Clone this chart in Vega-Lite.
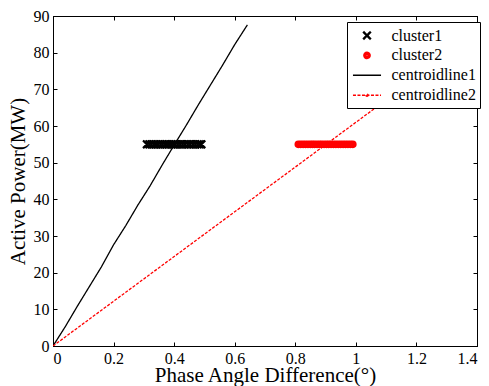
{
  "$schema": "https://vega.github.io/schema/vega-lite/v6.json",
  "width": 424,
  "height": 330,
  "autosize": {"type": "none"},
  "padding": {"left": 53, "top": 16, "right": 12, "bottom": 40},
  "background": "white",
  "config": {
    "view": {"stroke": "black", "strokeWidth": 1},
    "font": "Liberation Serif",
    "axis": {
      "grid": false,
      "domainColor": "black",
      "domainWidth": 1,
      "tickColor": "black",
      "tickWidth": 1,
      "tickSize": -4,
      "labelFont": "Liberation Serif",
      "labelFontSize": 16,
      "labelColor": "black",
      "titleFont": "Liberation Serif",
      "titleFontSize": 21,
      "titleFontWeight": "normal",
      "titleColor": "black"
    },
    "legend": {
      "labelFont": "Liberation Serif",
      "labelFontSize": 16,
      "labelColor": "black",
      "title": null,
      "orient": "none",
      "legendX": 294,
      "legendY": 6,
      "direction": "vertical",
      "strokeColor": "black",
      "fillColor": "white",
      "padding": 4,
      "rowPadding": 1.9,
      "symbolSize": 300,
      "symbolStrokeWidth": 1.5,
      "symbolOffset": 6.5,
      "labelOffset": 15
    }
  },
  "datasets": {
    "series": [
      {"series": "cluster1", "x": 0.31, "y": 55}, {"series": "cluster1", "x": 0.318, "y": 55},
      {"series": "cluster1", "x": 0.325, "y": 55}, {"series": "cluster1", "x": 0.333, "y": 55},
      {"series": "cluster1", "x": 0.34, "y": 55}, {"series": "cluster1", "x": 0.347, "y": 55},
      {"series": "cluster1", "x": 0.355, "y": 55}, {"series": "cluster1", "x": 0.362, "y": 55},
      {"series": "cluster1", "x": 0.37, "y": 55}, {"series": "cluster1", "x": 0.376, "y": 55},
      {"series": "cluster1", "x": 0.383, "y": 55}, {"series": "cluster1", "x": 0.39, "y": 55},
      {"series": "cluster1", "x": 0.397, "y": 55}, {"series": "cluster1", "x": 0.404, "y": 55},
      {"series": "cluster1", "x": 0.412, "y": 55}, {"series": "cluster1", "x": 0.42, "y": 55},
      {"series": "cluster1", "x": 0.428, "y": 55}, {"series": "cluster1", "x": 0.436, "y": 55},
      {"series": "cluster1", "x": 0.445, "y": 55}, {"series": "cluster1", "x": 0.453, "y": 55},
      {"series": "cluster1", "x": 0.462, "y": 55}, {"series": "cluster1", "x": 0.47, "y": 55},
      {"series": "cluster1", "x": 0.478, "y": 55}, {"series": "cluster1", "x": 0.485, "y": 55},
      {"series": "cluster1", "x": 0.49, "y": 55},
      {"series": "cluster2", "x": 0.81, "y": 55}, {"series": "cluster2", "x": 0.818, "y": 55},
      {"series": "cluster2", "x": 0.826, "y": 55}, {"series": "cluster2", "x": 0.834, "y": 55},
      {"series": "cluster2", "x": 0.842, "y": 55}, {"series": "cluster2", "x": 0.85, "y": 55},
      {"series": "cluster2", "x": 0.857, "y": 55}, {"series": "cluster2", "x": 0.864, "y": 55},
      {"series": "cluster2", "x": 0.872, "y": 55}, {"series": "cluster2", "x": 0.88, "y": 55},
      {"series": "cluster2", "x": 0.887, "y": 55}, {"series": "cluster2", "x": 0.895, "y": 55},
      {"series": "cluster2", "x": 0.903, "y": 55}, {"series": "cluster2", "x": 0.91, "y": 55},
      {"series": "cluster2", "x": 0.918, "y": 55}, {"series": "cluster2", "x": 0.926, "y": 55},
      {"series": "cluster2", "x": 0.934, "y": 55}, {"series": "cluster2", "x": 0.942, "y": 55},
      {"series": "cluster2", "x": 0.95, "y": 55}, {"series": "cluster2", "x": 0.958, "y": 55},
      {"series": "cluster2", "x": 0.966, "y": 55}, {"series": "cluster2", "x": 0.974, "y": 55},
      {"series": "cluster2", "x": 0.982, "y": 55}, {"series": "cluster2", "x": 0.99, "y": 55},
      {"series": "centroidline1", "x": 0, "y": 0}, {"series": "centroidline1", "x": 0.04, "y": 5.2},
      {"series": "centroidline1", "x": 0.08, "y": 10.8}, {"series": "centroidline1", "x": 0.12, "y": 16.2},
      {"series": "centroidline1", "x": 0.16, "y": 21.6}, {"series": "centroidline1", "x": 0.2, "y": 27.6},
      {"series": "centroidline1", "x": 0.24, "y": 32.8}, {"series": "centroidline1", "x": 0.28, "y": 38.4},
      {"series": "centroidline1", "x": 0.32, "y": 43.6}, {"series": "centroidline1", "x": 0.36, "y": 49.3},
      {"series": "centroidline1", "x": 0.4, "y": 54.8}, {"series": "centroidline1", "x": 0.44, "y": 60.2},
      {"series": "centroidline1", "x": 0.48, "y": 65.8}, {"series": "centroidline1", "x": 0.52, "y": 71.2},
      {"series": "centroidline1", "x": 0.56, "y": 76.6}, {"series": "centroidline1", "x": 0.6, "y": 82.2},
      {"series": "centroidline1", "x": 0.642, "y": 87.6},
      {"series": "centroidline2", "x": 0, "y": 0}, {"series": "centroidline2", "x": 0.2, "y": 12.2},
      {"series": "centroidline2", "x": 0.4, "y": 24.4}, {"series": "centroidline2", "x": 0.6, "y": 36.6},
      {"series": "centroidline2", "x": 0.8, "y": 48.8}, {"series": "centroidline2", "x": 1.0, "y": 61.0},
      {"series": "centroidline2", "x": 1.2, "y": 73.2}, {"series": "centroidline2", "x": 1.3, "y": 79.3}
    ],
    "frame": [{"x": 0, "y": 0}]
  },
  "layer": [
    {
      "data": {"name": "series"},
      "encoding": {
        "x": {
          "field": "x", "type": "quantitative",
          "scale": {"domain": [0, 1.4], "nice": false, "zero": false},
          "axis": {"title": "Phase Angle Difference(°)", "values": [0, 0.2, 0.4, 0.6, 0.8, 1, 1.2, 1.4], "format": "~g", "labelFont": "Liberation Serif", "labelPadding": 8, "titlePadding": -2}
        },
        "y": {
          "field": "y", "type": "quantitative",
          "scale": {"domain": [0, 90], "nice": false},
          "axis": {"title": "Active Power(MW)", "values": [0, 10, 20, 30, 40, 50, 60, 70, 80, 90], "labelFont": "Liberation Serif", "labelPadding": 8, "titlePadding": 5}
        },
        "color": {
          "field": "series", "type": "nominal",
          "scale": {
            "domain": ["cluster1", "cluster2", "centroidline1", "centroidline2"],
            "range": ["black", "#ff0000", "black", "#ff0000"]
          }
        }
      },
      "layer": [
        {
          "transform": [{"filter": "datum.series === 'centroidline1' || datum.series === 'centroidline2'"}],
          "mark": {"type": "line", "strokeWidth": 1.3, "clip": true},
          "encoding": {
            "strokeDash": {
              "field": "series", "type": "nominal",
              "scale": {
                "domain": ["cluster1", "cluster2", "centroidline1", "centroidline2"],
                "range": [[1, 0], [1, 0], [1, 0], [3, 1.5]]
              }
            }
          }
        },
        {
          "transform": [{"filter": "datum.series === 'cluster1' || datum.series === 'cluster2'"}],
          "mark": {"type": "point", "filled": false, "size": 300, "strokeWidth": 1.5, "opacity": 1},
          "encoding": {
            "shape": {
              "field": "series", "type": "nominal",
              "scale": {
                "domain": ["cluster1", "cluster2", "centroidline1", "centroidline2"],
                "range": [
                  "M-0.44,-0.44L0.44,0.44M-0.406,-0.474L0.474,0.406M-0.474,-0.406L0.406,0.474M-0.44,0.44L0.44,-0.44M-0.406,0.474L0.474,-0.406M-0.474,0.406L0.406,-0.474",
                  "M0.356,0A0.356,0.356,0,1,1,-0.356,0A0.356,0.356,0,1,1,0.356,0M0.243,0A0.243,0.243,0,1,1,-0.243,0A0.243,0.243,0,1,1,0.243,0M0.129,0A0.129,0.129,0,1,1,-0.129,0A0.129,0.129,0,1,1,0.129,0M0.032,0A0.032,0.032,0,1,1,-0.032,0A0.032,0.032,0,1,1,0.032,0",
                  "M-1.62,0H1.62",
                  "M-1.62,0H1.62M0.12,0A0.12,0.12,0,1,1,-0.12,0A0.12,0.12,0,1,1,0.12,0"
                ]
              }
            }
          }
        }
      ]
    },
    {
      "data": {"name": "frame"},
      "mark": {"type": "point", "opacity": 0},
      "encoding": {
        "x": {
          "field": "x", "type": "quantitative",
          "scale": {"domain": [0, 1.4], "nice": false, "zero": false},
          "axis": {"orient": "top", "title": null, "labels": false, "values": [0, 0.2, 0.4, 0.6, 0.8, 1, 1.2, 1.4]}
        },
        "y": {
          "field": "y", "type": "quantitative",
          "scale": {"domain": [0, 90], "nice": false},
          "axis": {"orient": "right", "title": null, "labels": false, "values": [0, 10, 20, 30, 40, 50, 60, 70, 80, 90]}
        }
      }
    }
  ],
  "resolve": {"scale": {"x": "independent", "y": "independent"}}
}
